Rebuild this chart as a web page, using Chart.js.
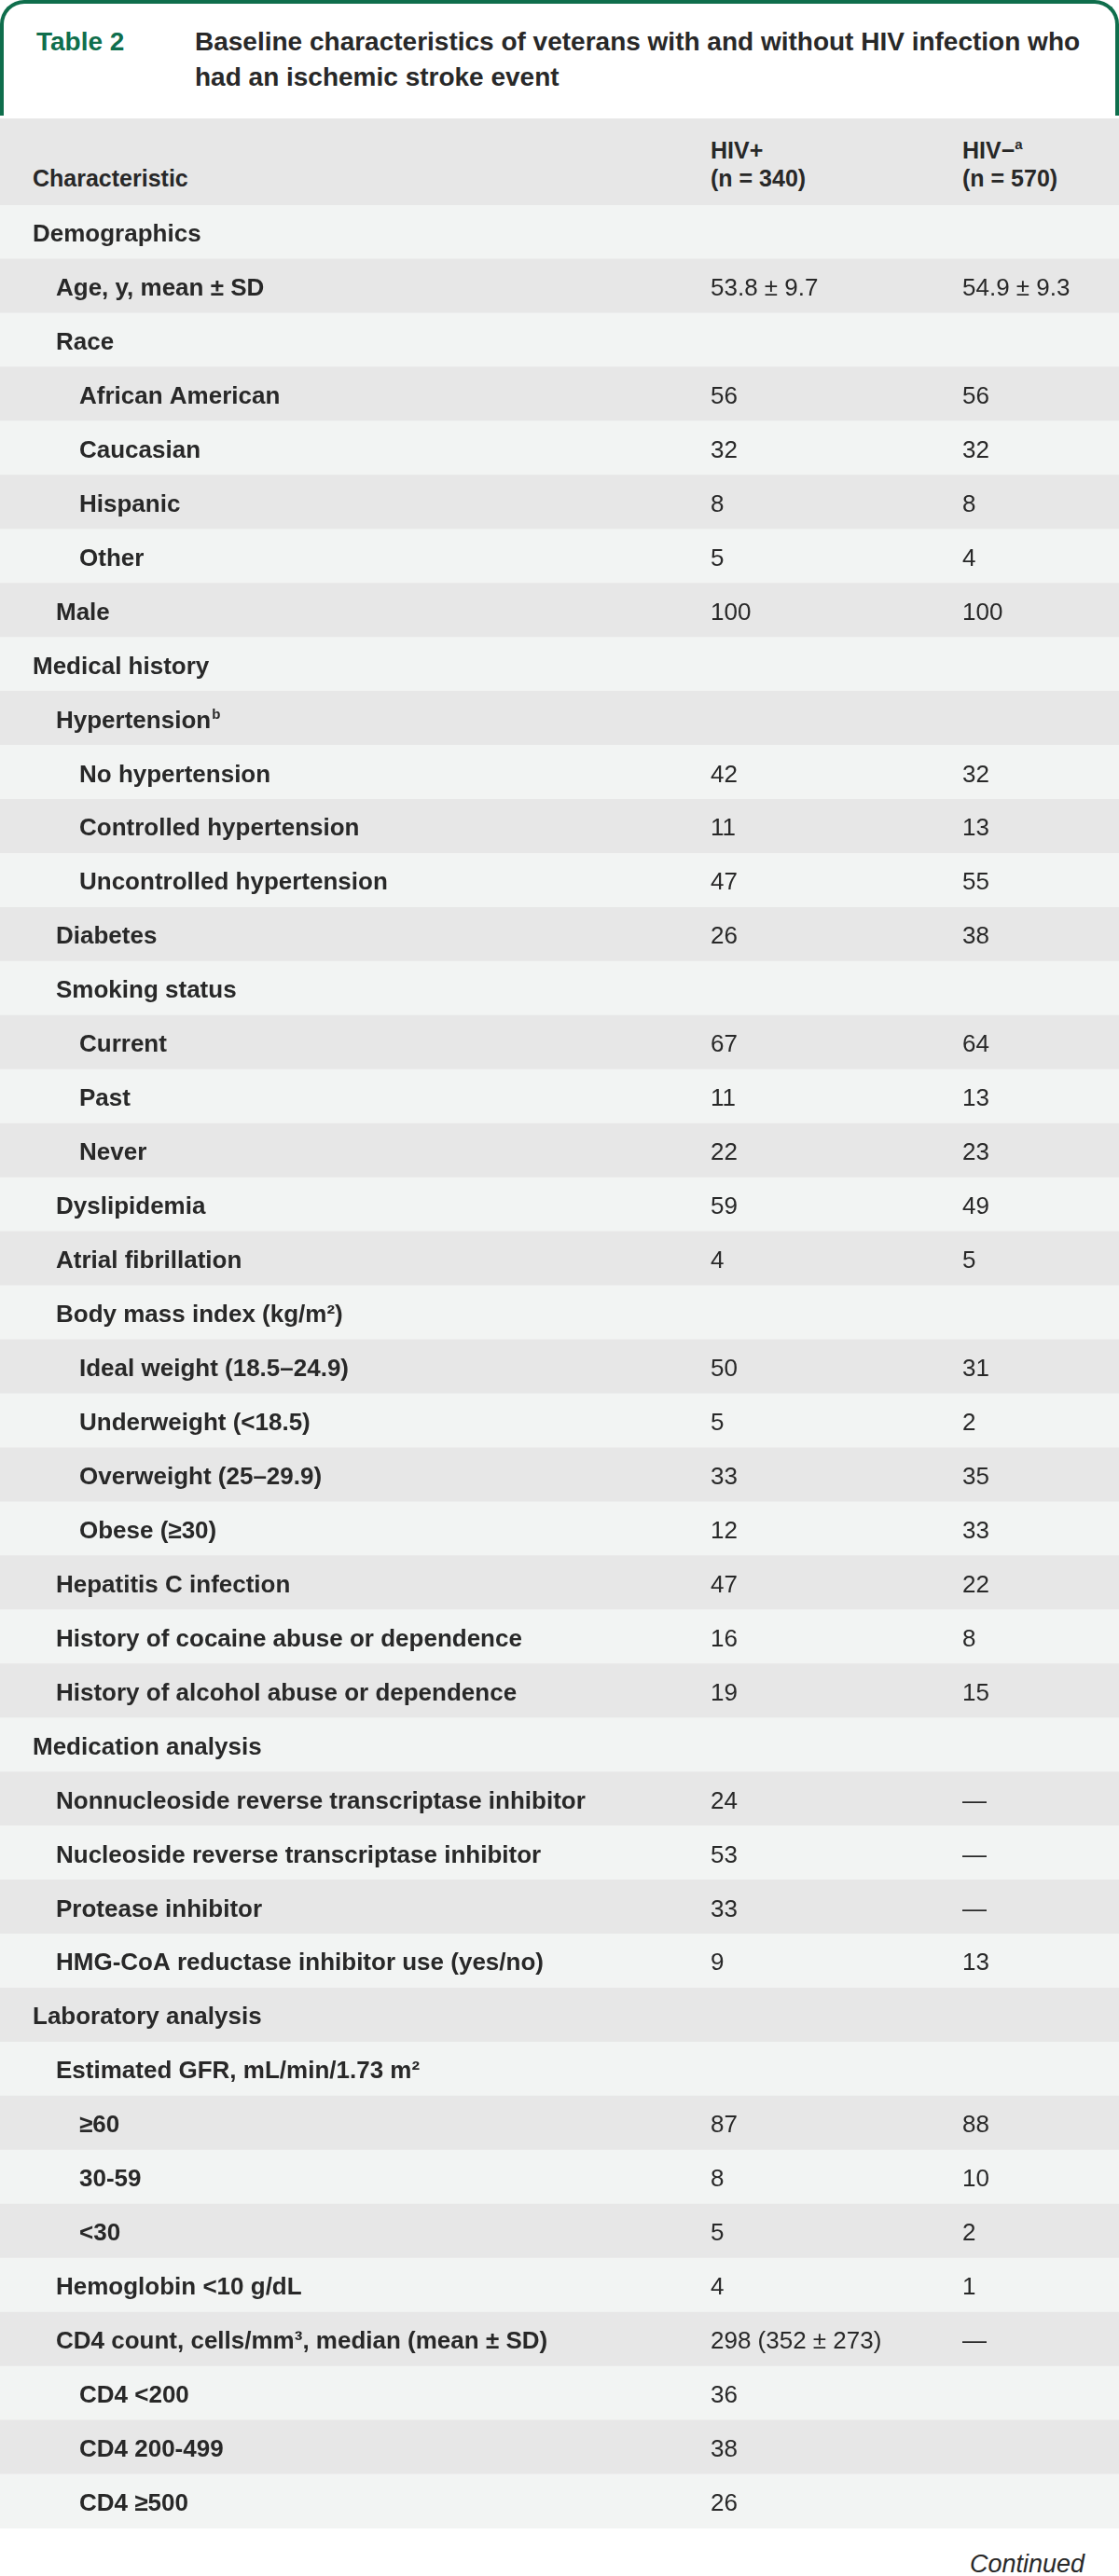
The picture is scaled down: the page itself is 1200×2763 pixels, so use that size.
<!DOCTYPE html>
<html>
<head>
<meta charset="utf-8">
<title>Table 2</title>
<script src="https://cdn.jsdelivr.net/npm/chart.js@4.4.1/dist/chart.umd.min.js"></script>
<style>
  body { margin: 0; width: 1200px; height: 2763px; position: relative; overflow: hidden; background: #fff;
         font-family: "Liberation Sans", Arial, sans-serif; color: #282828; }
  #titlebox { position: absolute; left: 0; top: 0; width: 1200px; height: 124px; box-sizing: border-box;
              border: 4px solid #0f6e4c; border-bottom: none; border-radius: 26px 26px 0 0; }
  .ttl { position: absolute; top: 22px; font-size: 28px; line-height: 38px; font-weight: bold; }
  #tnum { left: 35px; color: #0f6e4c; }
  #ttext { left: 205px; width: 980px; }
  #head { position: absolute; left: 0; top: 127px; width: 1200px; height: 93px; background: #e7e7e7;
          font-size: 25px; font-weight: bold; line-height: 30px; }
  #head div { position: absolute; top: 146px; }
  #head sup { font-size: 15px; vertical-align: 10px; line-height: 0; }
  #wrap { position: absolute; left: 0; top: 220px; width: 1200px; height: 2492px; }
  #cont { position: absolute; right: 37px; top: 2735px; font-size: 27px; font-style: italic; line-height: 30px; }
</style>
</head>
<body>
<div id="titlebox">
  <div class="ttl" id="tnum">Table 2</div>
  <div class="ttl" id="ttext">Baseline characteristics of veterans with and without HIV infection who had an ischemic stroke event</div>
</div>
<div id="head">
  <div style="left:35px;top:49px">Characteristic</div>
  <div style="left:762px;top:19px">HIV+<br>(n = 340)</div>
  <div style="left:1032px;top:19px">HIV−<sup>a</sup><br>(n = 570)</div>
</div>
<div id="wrap"><canvas id="tbl" width="1200" height="2492"></canvas></div>
<div id="cont">Continued</div>

<script>
// rows of the table, top to bottom
const rowLabels = [
  'Demographics', 'Age, y, mean ± SD', 'Race', 'African American', 'Caucasian', 'Hispanic', 'Other', 'Male',
  'Medical history', 'Hypertension^b', 'No hypertension', 'Controlled hypertension', 'Uncontrolled hypertension',
  'Diabetes', 'Smoking status', 'Current', 'Past', 'Never', 'Dyslipidemia', 'Atrial fibrillation',
  'Body mass index (kg/m²)', 'Ideal weight (18.5–24.9)', 'Underweight (<18.5)', 'Overweight (25–29.9)', 'Obese (≥30)',
  'Hepatitis C infection', 'History of cocaine abuse or dependence', 'History of alcohol abuse or dependence',
  'Medication analysis', 'Nonnucleoside reverse transcriptase inhibitor', 'Nucleoside reverse transcriptase inhibitor',
  'Protease inhibitor', 'HMG-CoA reductase inhibitor use (yes/no)',
  'Laboratory analysis', 'Estimated GFR, mL/min/1.73 m²', '≥60', '30-59', '<30', 'Hemoglobin <10 g/dL',
  'CD4 count, cells/mm³, median (mean ± SD)', 'CD4 <200', 'CD4 200-499', 'CD4 ≥500'
];
const rowLevels = [0, 1, 1, 2, 2, 2, 2, 1, 0, 1, 2, 2, 2, 1, 1, 2, 2, 2, 1, 1, 1, 2, 2, 2, 2, 1, 1, 1,
                   0, 1, 1, 1, 1, 0, 1, 2, 2, 2, 1, 1, 2, 2, 2];
const hivPos = ['', '53.8 ± 9.7', '', '56', '32', '8', '5', '100', '', '', '42', '11', '47', '26', '', '67', '11', '22',
                '59', '4', '', '50', '5', '33', '12', '47', '16', '19', '', '24', '53', '33', '9', '', '', '87', '8', '5',
                '4', '298 (352 ± 273)', '36', '38', '26'];
const hivNeg = ['', '54.9 ± 9.3', '', '56', '32', '8', '4', '100', '', '', '32', '13', '55', '38', '', '64', '13', '23',
                '49', '5', '', '31', '2', '35', '33', '22', '8', '15', '', '—', '—', '—', '13', '', '', '88', '10', '2',
                '1', '—', '', '', ''];

const TEXT = '#282828';
const LIGHT = '#f2f4f3', DARK = '#e7e7e7';
const LABEL_FONT = 'bold 26px "Liberation Sans", Arial, sans-serif';
const SUP_FONT = 'bold 15px "Liberation Sans", Arial, sans-serif';
const VALUE_FONT = '26px "Liberation Sans", Arial, sans-serif';
const COL_LABEL = 35, INDENT = 25, COL_POS = 762, COL_NEG = 1032;

function drawLabel(ctx, text, x, base) {
  const [main, sup] = text.split('^');
  ctx.font = LABEL_FONT;
  ctx.fillText(main, x, base);
  if (sup) {
    const w = ctx.measureText(main).width;
    ctx.font = SUP_FONT;
    ctx.fillText(sup, x + w + 1, base - 10);
  }
}

const tableText = {
  id: 'tableText',
  afterDatasetsDraw(chart) {
    const { ctx, scales: { x, y } } = chart;
    ctx.save();
    ctx.fillStyle = TEXT;
    ctx.textBaseline = 'alphabetic';
    rowLabels.forEach((lab, i) => {
      const base = y.getPixelForValue(i) + 10;
      drawLabel(ctx, lab, x.getPixelForValue(COL_LABEL + rowLevels[i] * INDENT), base);
      ctx.font = VALUE_FONT;
      ctx.fillText(hivPos[i], x.getPixelForValue(COL_POS), base);
      ctx.fillText(hivNeg[i], x.getPixelForValue(COL_NEG), base);
    });
    ctx.restore();
  }
};

new Chart(document.getElementById('tbl'), {
  type: 'bar',
  data: {
    labels: rowLabels,
    datasets: [{
      data: rowLabels.map(() => [0, 1200]),
      backgroundColor: rowLabels.map((_, i) => i % 2 ? DARK : LIGHT),
      borderWidth: 0, borderSkipped: false, inflateAmount: 0.5,
      barPercentage: 1, categoryPercentage: 1,
    }]
  },
  options: {
    indexAxis: 'y', responsive: false, maintainAspectRatio: false, animation: false, events: [],
    layout: { padding: 0 },
    scales: {
      x: { display: false, min: 0, max: 1200 },
      y: { display: false },
    },
    plugins: { legend: { display: false }, tooltip: { enabled: false } },
  },
  plugins: [tableText],
});
</script>
</body>
</html>
